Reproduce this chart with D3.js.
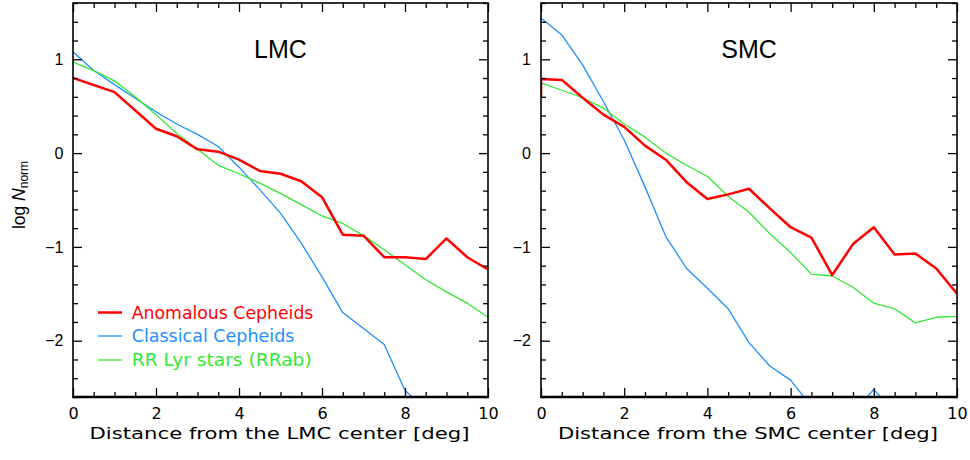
<!DOCTYPE html>
<html>
<head>
<meta charset="utf-8">
<script src="https://cdn.jsdelivr.net/npm/d3@7"></script>
<style>
  html, body { margin: 0; padding: 0; background: #fff; }
  svg { display: block; }
</style>
</head>
<body>
<svg id="chart" width="970" height="460"></svg>
<script>
// ---------- data ----------
const xsAC  = [0, 1, 2, 2.5, 3, 3.5, 4, 4.5, 5, 5.5, 6, 6.5, 7, 7.5, 8, 8.5, 9, 9.5, 10];
const lmcAC = [0.80, 0.65, 0.26, 0.18, 0.04, 0.015, -0.07, -0.19, -0.22, -0.30, -0.47, -0.87, -0.88, -1.11, -1.11, -1.13, -0.91, -1.11, -1.24];

const xsHalf = [0, 0.5, 1, 1.5, 2, 2.5, 3, 3.5, 4, 4.5, 5, 5.5, 6, 6.5, 7, 7.5, 8, 8.5, 9, 9.5, 10];
const lmcCC = [1.08, 0.88, 0.73, 0.585, 0.44, 0.31, 0.20, 0.07, -0.15, -0.39, -0.64, -0.96, -1.32, -1.70, -1.87, -2.04, -2.53, -2.73];
const lmcRR = [0.97, 0.88, 0.77, 0.60, 0.41, 0.21, 0.04, -0.13, -0.22, -0.32, -0.43, -0.55, -0.67, -0.75, -0.88, -1.03, -1.19, -1.35, -1.48, -1.60, -1.75];

const xsSmcAC = [0, 0, 0.5, 1, 1.5, 2, 2.5, 3, 3.5, 4, 4.5, 5, 5.5, 6, 6.5, 7, 7.5, 8, 8.5, 9, 9.5, 10];
const smcAC = [0.59, 0.79, 0.78, 0.59, 0.41, 0.28, 0.08, -0.07, -0.31, -0.49, -0.44, -0.38, -0.59, -0.79, -0.90, -1.30, -0.97, -0.79, -1.08, -1.07, -1.23, -1.50];
const smcCC = [1.44, 1.26, 0.94, 0.55, 0.14, -0.36, -0.89, -1.23, -1.44, -1.66, -2.02, -2.27, -2.42, -2.70, -2.90, -2.76, -2.52, -2.76];
const smcRR = [0.75, 0.67, 0.59, 0.48, 0.31, 0.17, 0.00, -0.13, -0.25, -0.46, -0.63, -0.86, -1.06, -1.29, -1.31, -1.43, -1.60, -1.66, -1.81, -1.75, -1.74];

const panelNames = ["LMC", "SMC"];
const xTitles = ["Distance from the LMC center [deg]", "Distance from the SMC center [deg]"];
const seriesNames = ["Anomalous Cepheids", "Classical Cepheids", "RR Lyr stars (RRab)"];
const xMajorTicks = [0, 2, 4, 6, 8, 10];
const yMajorTicks = [-2, -1, 0, 1];

// ---------- styling ----------
const colors = ["#ff0000", "#1e8fff", "#33e833"];
const widths = [2.5, 1.3, 1.3];

const svg = d3.select("#chart");
const topY = 3, bottomY = 397;
const panels = [
  { left: 73, right: 488, ylabX: 9.5, data: [[xsAC, lmcAC], [xsHalf, lmcCC], [xsHalf, lmcRR]] },
  { left: 541, right: 957, ylabX: 10, data: [[xsSmcAC, smcAC], [xsHalf, smcCC], [xsHalf, smcRR]] }
];

const xMinor = d3.range(0, 10.001, 0.5).filter(v => Math.abs(v / 2 - Math.round(v / 2)) > 1e-6);
const yMinor = d3.range(-2.6, 1.6001, 0.2).map(v => +v.toFixed(1)).filter(v => Math.abs(v - Math.round(v)) > 1e-6);

panels.forEach((p, i) => {
  const x = d3.scaleLinear().domain([0, 10]).range([p.left, p.right]);
  const y = d3.scaleLinear().domain([-2.6, 1.6]).range([bottomY, topY]);
  const g = svg.append("g");

  const cid = "clip" + i;
  svg.append("clipPath").attr("id", cid).append("rect")
    .attr("x", p.left).attr("y", topY).attr("width", p.right - p.left).attr("height", bottomY - topY);

  const lineGen = d3.line().x(d => x(d[0])).y(d => y(d[1]));
  const plotG = g.append("g").attr("clip-path", `url(#${cid})`);
  const paths = [];
  p.data.forEach((s, k) => {
    const pts = s[1].map((v, j) => [s[0][j], v]);
    paths.push(plotG.append("path").datum(pts)
      .attr("d", lineGen)
      .attr("fill", "none")
      .attr("stroke", colors[k])
      .attr("stroke-width", widths[k])
      .attr("stroke-linejoin", "round"));
  });
  paths[0].raise();

  const mk = (axis, tr, vals, size, fmt, pad) => {
    const a = g.append("g").attr("transform", tr)
      .call(axis.tickValues(vals).tickSize(size).tickPadding(pad).tickFormat(fmt));
    a.select(".domain").remove();
    a.selectAll("line").attr("stroke", "#000").attr("stroke-width", 1.3);
    return a;
  };
  const xb = mk(d3.axisBottom(x), `translate(0,${bottomY})`, xMajorTicks, -9, d3.format("d"), 10.5);
  xb.selectAll("text").attr("font-family", "DejaVu Sans").attr("font-size", 16).attr("fill", "#000");
  mk(d3.axisBottom(x), `translate(0,${bottomY})`, xMinor, -5, "", 0);
  mk(d3.axisTop(x), `translate(0,${topY})`, xMajorTicks, -9, "", 0);
  mk(d3.axisTop(x), `translate(0,${topY})`, xMinor, -5, "", 0);
  const yl = mk(d3.axisLeft(y), `translate(${p.left},0)`, yMajorTicks, -9, d3.format("d"), p.ylabX);
  yl.selectAll("text").attr("font-family", "Liberation Sans").attr("font-size", 16).attr("fill", "#000");
  mk(d3.axisLeft(y), `translate(${p.left},0)`, yMinor, -5, "", 0);
  mk(d3.axisRight(y), `translate(${p.right},0)`, yMajorTicks, -9, "", 0);
  mk(d3.axisRight(y), `translate(${p.right},0)`, yMinor, -5, "", 0);

  g.append("rect").attr("x", p.left).attr("y", topY)
    .attr("width", p.right - p.left).attr("height", bottomY - topY)
    .attr("fill", "none").attr("stroke", "#000").attr("stroke-width", 1.6);
  g.append("line").attr("x1", p.left - 0.8).attr("x2", p.right + 0.8)
    .attr("y1", bottomY).attr("y2", bottomY).attr("stroke", "#000").attr("stroke-width", 2.4);

  g.append("text").attr("x", (p.left + p.right) / 2).attr("y", 58)
    .attr("text-anchor", "middle").attr("font-family", "Liberation Sans")
    .attr("font-size", 25).attr("fill", "#000").text(panelNames[i]);

  g.append("text").attr("x", (p.left + p.right) / 2 - 1).attr("y", 439)
    .attr("text-anchor", "middle").attr("font-family", "DejaVu Sans")
    .attr("font-size", 15).attr("fill", "#000")
    .attr("textLength", 380).attr("lengthAdjust", "spacingAndGlyphs")
    .text(xTitles[i]);
});

const yt = svg.append("text")
  .attr("transform", "translate(25,195) rotate(-90)")
  .attr("text-anchor", "middle")
  .attr("font-family", "Liberation Sans").attr("font-size", 17.5).attr("fill", "#000");
yt.append("tspan").text("log ");
yt.append("tspan").attr("font-style", "italic").text("N");
yt.append("tspan").attr("font-size", 12).attr("dy", 3).text("norm");

const legendY = [312.5, 336, 360];
const legendLen = [181.7, 162.7, 180];
const leg = svg.append("g");
seriesNames.forEach((name, k) => {
  leg.append("line").attr("x1", 98).attr("x2", 122)
    .attr("y1", legendY[k]).attr("y2", legendY[k])
    .attr("stroke", colors[k]).attr("stroke-width", widths[k]);
  leg.append("text").attr("x", 131.7).attr("y", legendY[k] + 6)
    .attr("font-family", "DejaVu Sans").attr("font-size", 17)
    .attr("fill", colors[k])
    .attr("textLength", legendLen[k]).attr("lengthAdjust", "spacingAndGlyphs")
    .text(name);
});
</script>
</body>
</html>
